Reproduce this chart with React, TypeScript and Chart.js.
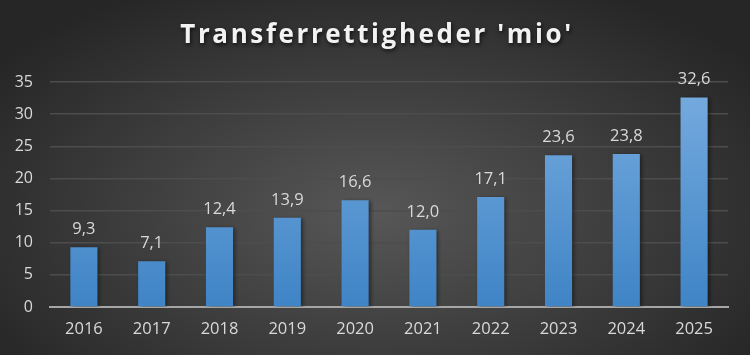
import React, { useEffect, useRef } from "react";
import { Chart, registerables } from "chart.js";

Chart.register(...registerables);

const title = "Transferrettigheder 'mio'";
const categories = ["2016", "2017", "2018", "2019", "2020", "2021", "2022", "2023", "2024", "2025"];
const values = [9.3, 7.1, 12.4, 13.9, 16.6, 12.0, 17.1, 23.6, 23.8, 32.6];
const yTicks = [0, 5, 10, 15, 20, 25, 30, 35];

const FONT = "'Open Sans', sans-serif";

export default function App() {
  const ref = useRef<HTMLCanvasElement>(null);
  useEffect(() => {
    document.body.style.margin = "0";
    const canvas = ref.current!;
    const bgPlugin = {
      id: "bg",
      beforeDraw(chart: any) {
        const { ctx, width, height } = chart;
        ctx.save();
        ctx.translate(width / 2, height * 0.6);
        ctx.scale(1, 0.55);
        const g = ctx.createRadialGradient(0, 0, 0, 0, 0, width * 0.62);
        g.addColorStop(0, "#575757");
        g.addColorStop(1, "#262626");
        ctx.fillStyle = g;
        ctx.fillRect(-width, -height * 3, width * 2, height * 6);
        ctx.restore();
      },
      afterDraw(chart: any) {
        const { ctx } = chart;
        ctx.save();
        ctx.font = `bold 26px ${FONT}`;
        (ctx as any).letterSpacing = "2.6px";
        ctx.textAlign = "center";
        ctx.textBaseline = "alphabetic";
        ctx.shadowColor = "rgba(0,0,0,0.7)";
        ctx.shadowBlur = 4;
        ctx.shadowOffsetX = 1;
        ctx.shadowOffsetY = 2;
        ctx.fillStyle = "#f2f2f2";
        ctx.fillText(title, chart.width / 2 + 2, 43);
        ctx.restore();
      },
    };
    const barShadow = {
      id: "barShadow",
      beforeDatasetsDraw(chart: any) {
        const { ctx } = chart;
        ctx.save();
        ctx.shadowColor = "rgba(0,0,0,0.45)";
        ctx.shadowBlur = 4;
        ctx.shadowOffsetX = 2;
        ctx.shadowOffsetY = 1;
      },
      afterDatasetsDraw(chart: any) {
        const { ctx } = chart;
        ctx.restore();
        const meta = chart.getDatasetMeta(0);
        ctx.save();
        ctx.font = `16.5px ${FONT}`;
        ctx.fillStyle = "#d9d9d9";
        ctx.textAlign = "center";
        ctx.textBaseline = "alphabetic";
        meta.data.forEach((bar: any, i: number) => {
          ctx.fillText(values[i].toFixed(1).replace(".", ","), bar.x, bar.y - 13);
        });
        ctx.restore();
      },
    };
    const chart = new Chart(canvas, {
      type: "bar",
      data: {
        labels: categories,
        datasets: [
          {
            data: values,
            backgroundColor: (c: any) => {
              const area = c.chart.chartArea;
              if (!area) return "#5b9bd5";
              const g = c.chart.ctx.createLinearGradient(0, area.top, 0, area.bottom);
              g.addColorStop(0, "#77acdf");
              g.addColorStop(1, "#3f84c6");
              return g;
            },
            borderWidth: 0,
            barPercentage: 0.4,
            categoryPercentage: 1,
          },
        ],
      },
      options: {
        animation: false,
        responsive: false,
        maintainAspectRatio: false,
        layout: { padding: { top: 82, right: 22, left: 0, bottom: 0 } },
        plugins: { legend: { display: false }, tooltip: { enabled: false }, title: { display: false } },
        scales: {
          x: {
            grid: { display: false, drawTicks: false },
            border: { display: true, color: "#a6a6a6", width: 2 },
            ticks: { color: "#d9d9d9", font: { family: FONT, size: 16.5 }, padding: 12 },
            afterFit: (s: any) => { s.height = 48; },
          },
          y: {
            min: 0,
            max: 35,
            afterBuildTicks: (s: any) => { s.ticks = yTicks.map((v) => ({ value: v })); },
            grid: { color: "#4d4d4d", lineWidth: 1.5, drawTicks: false },
            border: { display: false },
            ticks: { color: "#d9d9d9", font: { family: FONT, size: 16 }, padding: 17 },
            afterFit: (s: any) => { s.width = 50; },
          },
        },
      },
      plugins: [bgPlugin, barShadow],
    });
    return () => chart.destroy();
  }, []);
  return (
    <div style={{ width: 750, height: 355 }}>
      <canvas ref={ref} width={750} height={355} style={{ display: "block" }} />
    </div>
  );
}
